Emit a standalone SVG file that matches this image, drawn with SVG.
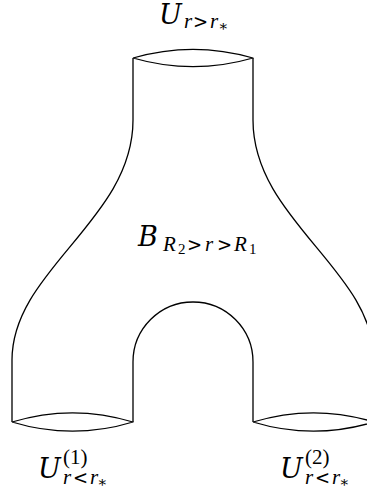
<svg xmlns="http://www.w3.org/2000/svg" width="367" height="495" viewBox="0 0 367 495">
<style>
.ln{fill:none;stroke:#000;stroke-width:1.3;stroke-linejoin:round}
text{font-family:"Liberation Serif","DejaVu Serif",serif;fill:#000}
.it{font-style:italic}
.big{font-family:"DejaVu Serif",serif;font-size:27px;font-style:italic}
.sm{font-size:21px}
.rel{font-family:"DejaVu Serif",serif;font-size:18px}
.xs{font-size:15px}
</style>
<rect width="367" height="495" fill="#fff"/>
<g id="outline">
<path class="ln" d="M133,58 L133,120 C133,220 12,270 12,360 L12,422"/>
<path class="ln" d="M253,58 L253,120 C253,220 374,270 374,360 L374,422"/>
<path class="ln" d="M133,422 L133,362 A60,60 0 0 1 253,362 L253,422"/>
</g>
<g id="cap-top">
<path class="ln" d="M133,58 A216,216 0 0 1 253,58 A216,216 0 0 1 133,58"/>
</g>
<g id="cap-left">
<path class="ln" d="M12,422 A208,208 0 0 1 133,422 A208,208 0 0 1 12,422"/>
</g>
<g id="cap-right">
<path class="ln" d="M253,422 A208,208 0 0 1 374,422 A208,208 0 0 1 253,422"/>
</g>
<g id="label-top">
<text class="big" x="159" y="24">U</text>
<text class="sm it" x="184" y="28">r</text>
<text class="rel" x="193" y="28">&gt;</text>
<text class="sm it" x="210" y="28">r</text>
<text class="xs" x="218" y="31">∗</text>
</g>
<g id="label-mid">
<text class="big" x="138" y="246">B</text>
<text class="sm it" x="163" y="251">R</text>
<text class="xs" x="178" y="254">2</text>
<text class="rel" x="187" y="251">&gt;</text>
<text class="sm it" x="205" y="251">r</text>
<text class="rel" x="217" y="251">&gt;</text>
<text class="sm it" x="234" y="251">R</text>
<text class="xs" x="249" y="254">1</text>
</g>
<g id="label-left">
<text class="big" x="38" y="478">U</text>
<text class="sm" x="63" y="464">(1)</text>
<text class="sm it" x="63" y="484">r</text>
<text class="rel" x="73" y="484">&lt;</text>
<text class="sm it" x="90" y="484">r</text>
<text class="xs" x="97" y="487">∗</text>
</g>
<g id="label-right">
<text class="big" x="280" y="478">U</text>
<text class="sm" x="305" y="464">(2)</text>
<text class="sm it" x="305" y="484">r</text>
<text class="rel" x="315" y="484">&lt;</text>
<text class="sm it" x="332" y="484">r</text>
<text class="xs" x="339" y="487">∗</text>
</g>
</svg>
